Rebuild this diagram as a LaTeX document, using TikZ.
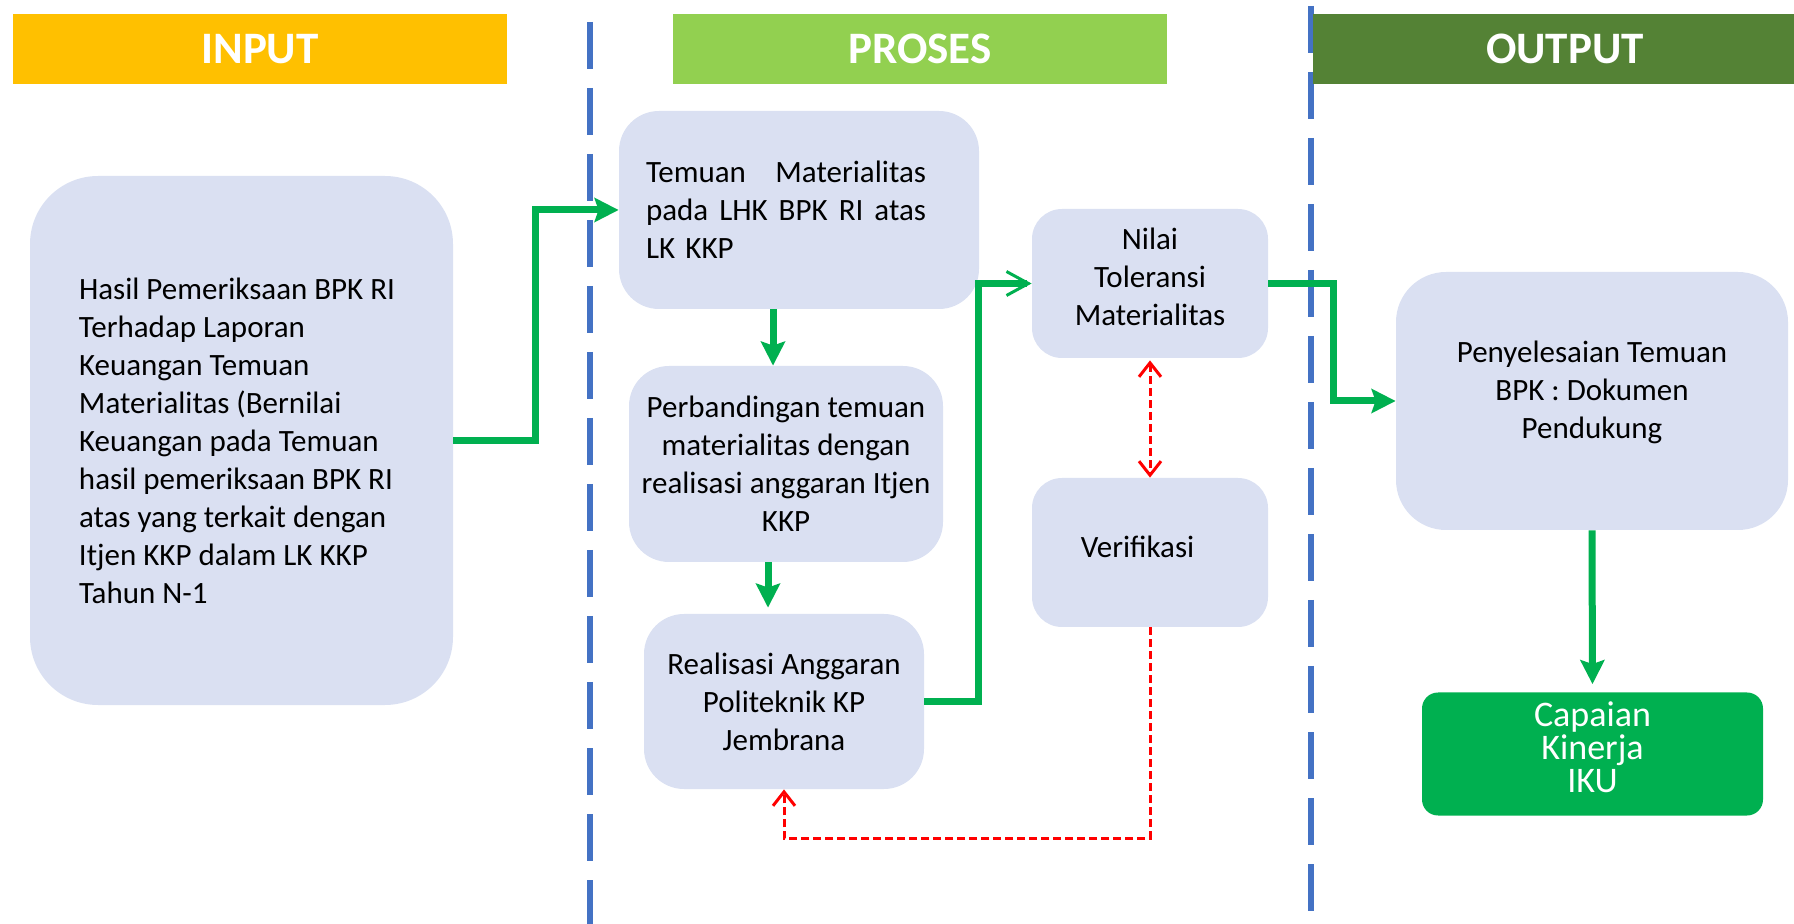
\documentclass[tikz,border=0pt]{standalone}
\usepackage{fontspec}
\setmainfont{Carlito}
\usetikzlibrary{arrows.meta}

\definecolor{inputc}{HTML}{FFC000}
\definecolor{prosesc}{HTML}{92D050}
\definecolor{outputc}{HTML}{548235}
\definecolor{boxc}{HTML}{DAE0F2}
\definecolor{arrowc}{HTML}{00B050}
\definecolor{linec}{HTML}{4472C4}

\begin{document}
\begin{tikzpicture}[x=0.5pt,y=-0.5pt,
  header/.style={minimum height=35pt, inner sep=0pt, text=white,
    font=\fontsize{22.5}{26}\selectfont\bfseries},
  box/.style={fill=boxc, rounded corners=#1, inner sep=0pt,
    font=\fontsize{15.5}{19}\selectfont},
  box/.default=20pt,
  flow/.style={arrowc, line width=3.5pt,
    -{Stealth[length=12pt,width=12pt,inset=2pt]}},
  check/.style={red, line width=1.5pt, dash pattern=on 4pt off 2pt},
  divider/.style={linec, line width=3pt, dash pattern=on 23.5pt off 9.5pt}]

% Fix the page size
\useasboundingbox (0,0) rectangle (1794,924);

% Column dividers
\draw[divider] (590,22) -- (590,924);
\draw[divider] (1311,6) -- (1311,912);

% Column headers
\node[header, fill=inputc, minimum width=247pt] (input) at (260,49) {INPUT};
\node[header, fill=prosesc, minimum width=247pt] (proses) at (920,49) {PROSES};
\node[header, fill=outputc, minimum width=252pt] (output) at (1565,49) {OUTPUT};

% Input
\node[box=34pt, minimum width=211.5pt, minimum height=264.5pt] (hasil) at (241.5,440.5)
  {\hspace*{9.5pt}\parbox{172pt}{\raggedright
   Hasil Pemeriksaan BPK RI\\ Terhadap Laporan\\ Keuangan Temuan\\
   Materialitas (Bernilai\\ Keuangan pada Temuan\\ hasil pemeriksaan BPK RI\\
   atas yang terkait dengan\\ Itjen KKP dalam LK KKP\\ Tahun N-1}};

% Proses
\node[box, minimum width=180pt, minimum height=99pt,
  text width=153pt, align=left] (temuan) at (799,210)
  {\parbox{140pt}{Temuan\hfill Materialitas\\ pada\hfill LHK\hfill BPK\hfill RI\hfill atas\\ LK KKP}};
\node[box, minimum width=157pt, minimum height=98pt, align=center] (banding) at (786,464)
  {Perbandingan temuan\\ materialitas dengan\\ realisasi anggaran Itjen\\ KKP};
\node[box, minimum width=140pt, minimum height=87.5pt, align=center] (realisasi) at (784,701.5)
  {Realisasi Anggaran\\ Politeknik KP\\ Jembrana};
\node[box=15pt, minimum width=118pt, minimum height=74.5pt, align=center] (nilai) at (1150,283.5)
  {Nilai\\ Toleransi\\ Materialitas\\[-12pt]};
\node[box=15pt, minimum width=118pt, minimum height=74.5pt, align=center] (verif) at (1150,552.5)
  {Verifikasi\hspace*{12.5pt}\\[-13pt]};

% Output
\node[box=25pt, minimum width=196pt, minimum height=129pt, align=center] (selesai) at (1592,401)
  {Penyelesaian Temuan\\ BPK : Dokumen\\ Pendukung\\[-8pt]};
\node[fill=arrowc, rounded corners=8pt, minimum width=170.5pt, minimum height=61.5pt,
  inner sep=0pt, text=white, align=center, font=\fontsize{18}{16.5}\selectfont]
  (capaian) at (1592.5,754) {Capaian\\ Kinerja\\ IKU\\[-10pt]};

% Main flow
\draw[flow] (hasil.east) -- ++(82,0) |- (temuan.west);
\draw[flow] ([xshift=-13pt]temuan.south) -- ([xshift=-6.5pt]banding.north);
\draw[flow, shorten >=3pt] ([xshift=-9pt]banding.south) -- ([xshift=-8pt]realisasi.north);
\draw[arrowc, line width=3.5pt, -{Straight Barb[length=11pt,width=12pt,line width=1.5pt]}]
  (realisasi.east) -- ++(54,0) |- (nilai.west);
\draw[flow] (nilai.east) -- ++(65,0) |- (selesai.west);
\draw[flow, shorten >=4pt] (selesai.south) -- (capaian.north);

% Verification loop
\draw[check, {Straight Barb[length=7pt,width=11pt]}-{Straight Barb[length=7pt,width=11pt]}]
  ([yshift=-1pt]nilai.south) -- (verif.north);
\draw[check, -{Straight Barb[length=7pt,width=11pt]}]
  (verif.south) -- ++(0,211) -| (realisasi.south);

\end{tikzpicture}
\end{document}
